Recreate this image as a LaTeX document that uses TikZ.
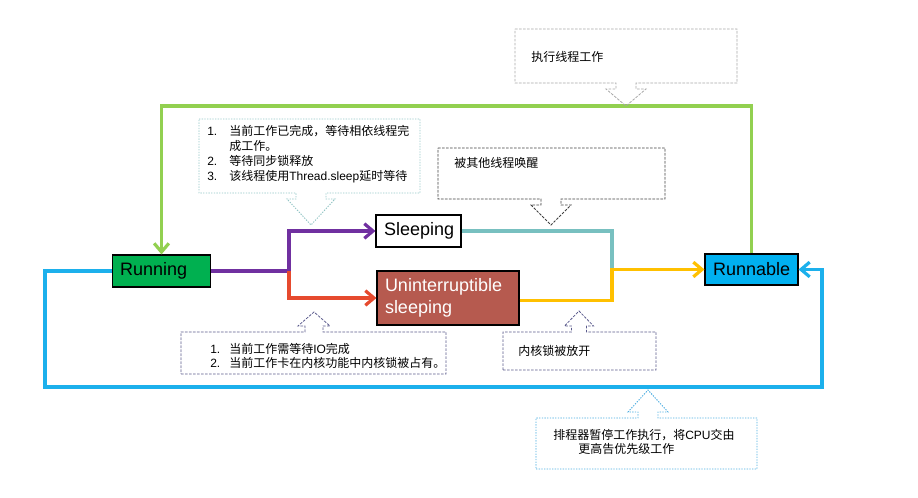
\documentclass[tikz,border=0pt]{standalone}
\usepackage{fontspec}
\setmainfont{Liberation Sans}
\newfontfamily\cjk{Noto Sans CJK SC}
\usepackage{xcolor}
\usetikzlibrary{arrows.meta,positioning}
\definecolor{rungreen}{HTML}{00B050}
\definecolor{runblue}{HTML}{00B0F0}
\definecolor{brick}{HTML}{B65A4F}
\definecolor{lnpurple}{HTML}{7030A0}
\definecolor{lnred}{HTML}{E64A2E}
\definecolor{lnteal}{HTML}{78C0C0}
\definecolor{lnyellow}{HTML}{FFC000}
\definecolor{lngreen}{HTML}{92D050}
\definecolor{lnblue}{HTML}{1CB0EC}
\definecolor{cgrey}{HTML}{A6A6A6}
\definecolor{cteal}{HTML}{93C5C5}
\definecolor{cdark}{HTML}{404040}
\definecolor{cnavy}{HTML}{5A5A8C}
\definecolor{csky}{HTML}{4BACE0}

\begin{document}
\begin{tikzpicture}[x=0.75pt,y=-0.75pt,
  state/.style={draw=black, line width=0.8pt, inner xsep=6pt, inner ysep=0pt,
    align=left, font=\fontsize{13.5}{16.5}\selectfont},
  link/.style={line width=2.4pt},
  tip/.style={-{Straight Barb[length=6.5pt,width=11pt]}},
  note/.style={font=\fontsize{9}{11.25}\selectfont, inner sep=0pt, align=left, anchor=west},
  dashbox/.style={line width=0.6pt, dash pattern=on 2pt off 1pt},
  dotbox/.style={line width=0.7pt, dash pattern=on 1pt off 1pt}]
\useasboundingbox (0,0) rectangle (918,498);
% callout macros: style, box corners, arrow x, tip y, shaft and head half widths
\def\CallDown#1#2#3#4#5#6#7#8#9{\draw[#1] (#2,#3) -- (#4,#3) -- (#4,#5)
  -- (#6+#8,#5) -- (#6+#8,#5+6) -- (#6+#9,#5+6) -- (#6,#7) -- (#6-#9,#5+6)
  -- (#6-#8,#5+6) -- (#6-#8,#5) -- (#2,#5) -- cycle;}
\def\CallUp#1#2#3#4#5#6#7#8#9{\draw[#1] (#2,#5) -- (#4,#5) -- (#4,#3)
  -- (#6+#8,#3) -- (#6+#8,#3-6) -- (#6+#9,#3-6) -- (#6,#7) -- (#6-#9,#3-6)
  -- (#6-#8,#3-6) -- (#6-#8,#3) -- (#2,#3) -- cycle;}
% states
\node[state, fill=rungreen, text width=62pt, minimum height=24pt] (run) at (161.5,271) {Running};
\node[state, fill=white, text width=51.75pt, minimum height=24pt] (sleep) at (418.5,231) {Sleeping};
\node[state, fill=brick, text=white, text width=94.5pt, minimum height=40.5pt] (unint) at (448,298)
  {Uninterruptible\\sleeping};
\node[state, fill=runblue, align=center, text width=57.75pt, minimum height=23.25pt] (runab) at (751.5,269.5) {Runnable};
% junctions
\coordinate (split) at (289,271);
\coordinate (merge) at (612,269.5);
\coordinate (gtop) at (0,106);
\coordinate (bl) at (45,387);
\coordinate (br) at (822,387);
% connectors
\draw[link, lnpurple] (run.east) -- (split);
\draw[link, lnpurple, tip] (split) |- (sleep.west);
\draw[link, lnred, tip] (split) |- (unint.west);
\draw[link, lnteal] (sleep.east) -| (merge);
\draw[link, lnyellow, tip] ([yshift=-2pt]unint.east) -| (merge) -- (runab.west);
\draw[link, lngreen, tip] (runab.north) -- (runab.north |- gtop) -| (run.north);
\draw[link, lnblue, tip] (run.west) -| (bl) -- (br) |- (runab.east);
% callouts
\CallDown{dashbox, cgrey}{515}{29}{737}{83}{626}{106}{10}{20}
\CallDown{dotbox, cteal}{199}{119}{420}{193}{311}{225}{15}{24}
\CallDown{dashbox, cdark}{438}{148}{665}{199}{551}{225}{10}{20}
\CallUp{dashbox, cnavy}{181}{332}{446}{374}{314}{312}{9}{16}
\CallUp{dashbox, cnavy}{503}{332}{656}{370}{579}{311}{7.5}{14.5}
\CallUp{dotbox, csky}{536}{418}{757}{469}{648}{390}{10}{20}
% callout texts
\node[note] (work) at (531,57) {\cjk 执行线程工作};
\node[note, anchor=north west] (why) at (207,125) {%
  \begin{tabular}{@{}p{16.5pt}@{}l@{}}
  1. & {\cjk 当前工作已完成，等待相依线程完}\\
     & {\cjk 成工作。}\\
  2. & {\cjk 等待同步锁释放}\\
  3. & {\cjk 该线程使用}Thread.sleep{\cjk 延时等待}
  \end{tabular}};
\node[note] (wake) at (454,163) {\cjk 被其他线程唤醒};
\node[note, anchor=north west, font=\fontsize{9}{10.5}\selectfont] (iowait) at (210,343) {%
  \begin{tabular}{@{}p{14.25pt}@{}l@{}}
  1. & {\cjk 当前工作需等待}IO{\cjk 完成}\\
  2. & {\cjk 当前工作卡在内核功能中内核锁被占有。}
  \end{tabular}};
\node[note] (unlock) at (518,351) {\cjk 内核锁被放开};
\node[note] (sched) at (553,435) {{\cjk 排程器暂停工作执行，将}CPU{\cjk 交由}};
\node[note] (sched2) at (578,449) {\cjk 更高告优先级工作};
\end{tikzpicture}
\end{document}
